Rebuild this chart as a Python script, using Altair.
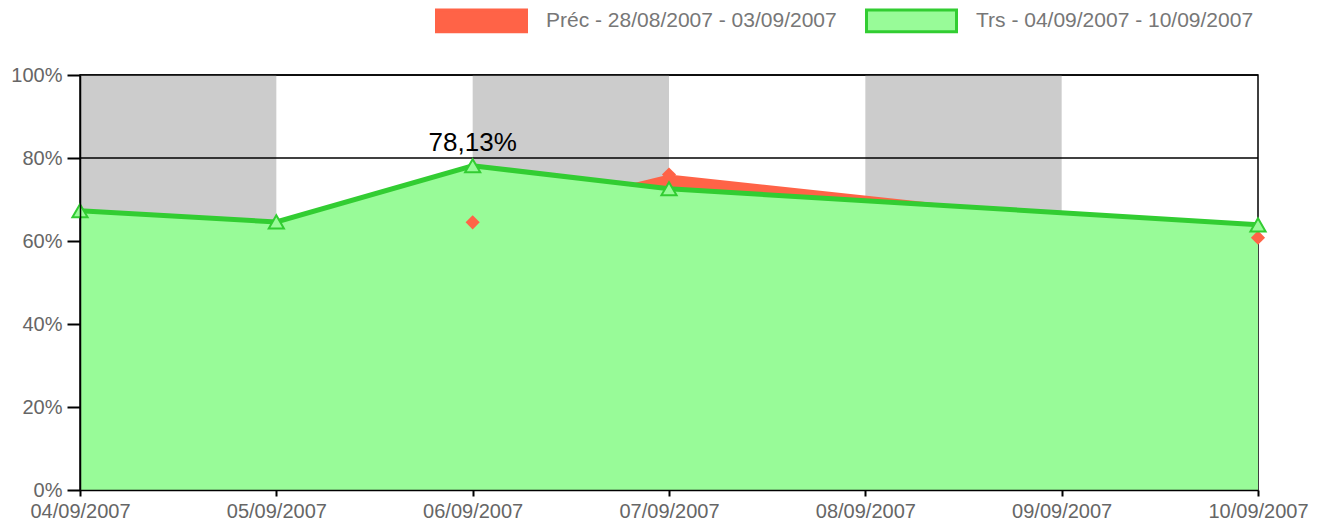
import altair as alt
import pandas as pd

dates = ["04/09/2007", "05/09/2007", "06/09/2007", "07/09/2007",
         "08/09/2007", "09/09/2007", "10/09/2007"]
trs = [67.3, 64.6, 78.13, 72.6, None, None, 63.9]
prec = [None, None, 64.5, 76.0, None, None, 60.8]
series_names = ["Préc - 28/08/2007 - 03/09/2007", "Trs - 04/09/2007 - 10/09/2007"]
band_start = [0, 2, 4]
band_end = [1, 3, 5]
ref_lines = [80, 100]
y_ticks = [0, 20, 40, 60, 80, 100]

FILLS = ["#FF6347", "#98FB98"]
STROKES = ["#FF6347", "#32CD32"]
FONT = "Liberation Sans"

idx = list(range(len(dates)))
rows = []
for s, vals in zip(series_names, [prec, trs]):
    for i, v in zip(idx, vals):
        if v is not None:
            rows.append({"i": i, "date": dates[i], "series": s, "v": v})
df = pd.DataFrame(rows)
df_prec = df[df["series"] == series_names[0]]
df_trs = df[df["series"] == series_names[1]]
df_bands = pd.DataFrame({"start": band_start, "end": band_end,
                         "top": [100] * len(band_start), "bottom": [0] * len(band_start)})
df_ref = pd.DataFrame({"y": ref_lines})

label_expr = "[" + ",".join("'%s'" % d for d in dates) + "][datum.value]"
xscale = alt.Scale(domain=[0, len(dates) - 1], nice=False, zero=False)
yscale = alt.Scale(domain=[0, 100], nice=False)
xaxis = alt.Axis(values=idx, labelExpr=label_expr, tickSize=6, tickWidth=2,
                 tickColor="black", domainColor="black", domainWidth=1.5,
                 labelFontSize=20, labelColor="#666666", labelPadding=5,
                 labelFlush=False, labelOverlap=False, grid=False, zindex=1)
yaxis = alt.Axis(values=y_ticks, labelExpr="datum.value + '%'", tickSize=13, tickWidth=2,
                 tickColor="black", domainColor="black", domainWidth=1.5,
                 labelFontSize=20, labelColor="#666666", labelPadding=5,
                 labelFlush=False, grid=False, zindex=1)


def X(f):
    return alt.X(f, scale=xscale, axis=xaxis, title=None)


def Y(f):
    return alt.Y(f, scale=yscale, axis=yaxis, title=None)


bands = alt.Chart(df_bands).mark_rect(color="#CCCCCC").encode(
    x=X("start:Q"), x2="end:Q", y=Y("top:Q"), y2="bottom:Q")

refs = alt.Chart(df_ref).mark_rule(color="black", strokeWidth=1.5).encode(y=Y("y:Q"))

area_prec = alt.Chart(df_prec).mark_area(color=FILLS[0], opacity=1).encode(x=X("i:Q"), y=Y("v:Q"))
area_trs = alt.Chart(df_trs).mark_area(color=FILLS[1], opacity=1).encode(x=X("i:Q"), y=Y("v:Q"))
line_trs = alt.Chart(df_trs).mark_line(color=STROKES[1], strokeWidth=5).encode(x=X("i:Q"), y=Y("v:Q"))

pts_prec = alt.Chart(df_prec).mark_point(shape="diamond", filled=True, color=FILLS[0],
                                         size=200, opacity=1).encode(x=X("i:Q"), y=Y("v:Q"))
pts_trs = alt.Chart(df_trs).mark_point(shape="triangle-up", filled=True, fill=FILLS[1],
                                       stroke=STROKES[1], strokeWidth=2, size=230,
                                       opacity=1).encode(x=X("i:Q"), y=Y("v:Q"))

label = alt.Chart(df_trs).transform_joinaggregate(
    vmax="max(v)"
).transform_filter(
    "datum.v == datum.vmax"
).transform_calculate(
    lbl="replace(format(datum.v, '.2f'), '.', ',') + '%'"
).mark_text(fontSize=26, color="black", dy=-15, baseline="alphabetic", font=FONT).encode(
    x=X("i:Q"), y=Y("v:Q"), text="lbl:N")

leg = alt.Legend(orient="none", legendX=355, legendY=-101, direction="horizontal", title=None,
                 symbolType="M-1,-0.24H1V0.24H-1Z", symbolSize=8100, symbolStrokeWidth=3,
                 symbolOpacity=1, labelFontSize=21, labelColor="#777777", labelFont=FONT,
                 labelOffset=18, labelLimit=500, columnPadding=23, padding=0)
legend_layer = alt.Chart(df).mark_point(filled=True, opacity=0).encode(
    x=X("i:Q"), y=Y("v:Q"),
    fill=alt.Fill("series:N", scale=alt.Scale(domain=series_names, range=FILLS), legend=leg),
    stroke=alt.Stroke("series:N", scale=alt.Scale(domain=series_names, range=STROKES), legend=leg),
)

chart = alt.layer(bands, refs, area_prec, area_trs, line_trs, pts_prec, pts_trs, label,
                  legend_layer).properties(
    width=1178, height=415,
    autosize=alt.AutoSizeParams(type="none"),
    padding={"left": 72, "top": 67, "right": 52, "bottom": 31},
).configure(font=FONT).configure_view(stroke="black", strokeWidth=1.5)

chart.save("out.html", embed_options={"renderer": "svg", "actions": False})
